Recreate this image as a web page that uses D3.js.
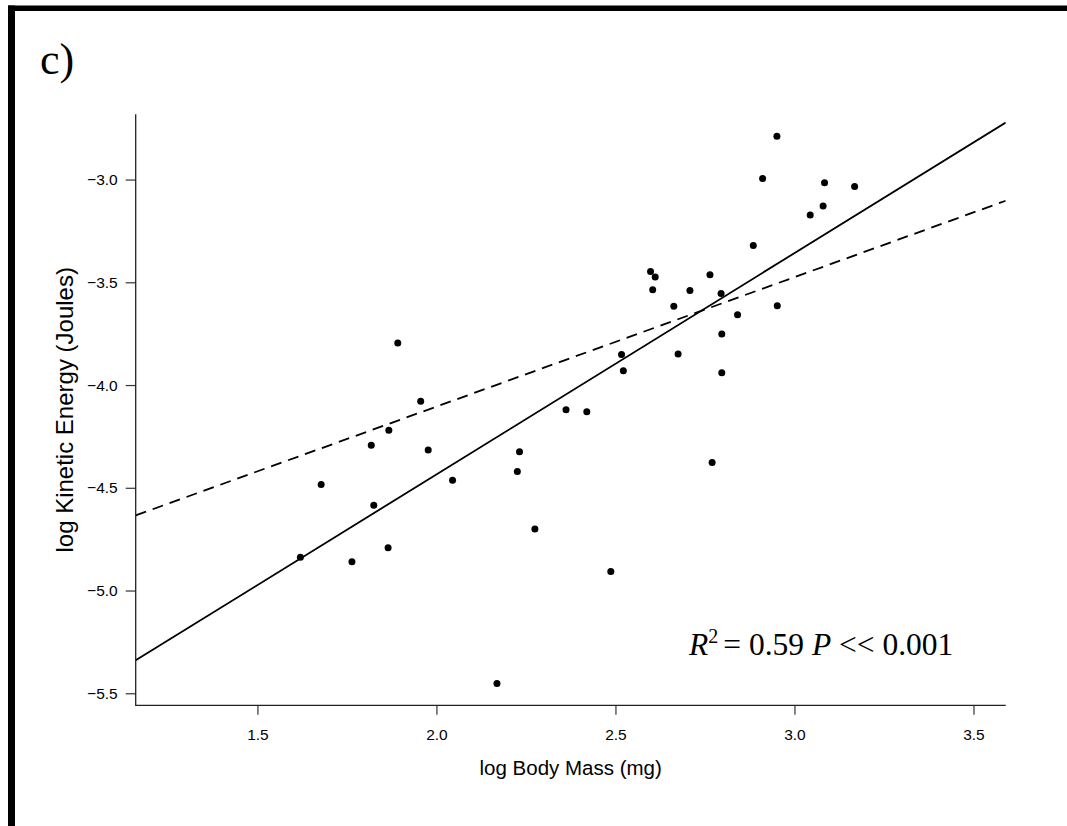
<!DOCTYPE html>
<html>
<head>
<meta charset="utf-8">
<script src="https://cdn.jsdelivr.net/npm/d3@7"></script>
<style>
  html, body { margin: 0; padding: 0; background: #fff; }
  svg { display: block; }
</style>
</head>
<body>
<svg id="chart" width="1067" height="826"></svg>
<script>
// ---- data ----
const bodyMass = [1.620, 1.678, 1.764, 1.818, 1.825, 1.865, 1.867, 1.892, 1.956, 1.977,
                  2.045, 2.226, 2.232, 2.275, 2.362, 2.420, 2.169, 2.487, 2.517, 2.522,
                  2.598, 2.611, 2.604, 2.663, 2.675, 2.708, 2.764, 2.770, 2.795, 2.797,
                  2.797, 2.841, 2.885, 2.911, 2.951, 2.952, 3.044, 3.080, 3.084, 3.168];
const kineticEnergy = [-4.838, -4.484, -4.860, -4.293, -4.585, -4.792, -4.220, -3.795, -4.079, -4.316,
                       -4.463, -4.421, -4.325, -4.700, -4.120, -4.130, -5.452, -4.907, -3.851, -3.930,
                       -3.447, -3.474, -3.536, -3.617, -3.849, -3.540, -3.463, -4.377, -3.554, -3.752,
                       -3.940, -3.658, -3.321, -2.995, -2.789, -3.614, -3.172, -3.129, -3.016, -3.034];
const lineNames = ["fit", "reference"];
const lineIntercepts = [-6.589, -5.365];
const lineSlopes = [1.077, 0.63];
const xTicks = [1.5, 2.0, 2.5, 3.0, 3.5];
const yTicks = [-3.0, -3.5, -4.0, -4.5, -5.0, -5.5];
const xLim = [1.25, 3.5];
const panelLabel = "c)";
const xTitle = "log Body Mass (mg)";
const yTitle = "log Kinetic Energy (Joules)";

// ---- layout ----
const svg = d3.select("#chart");
const plot = { left: 135.7, right: 1005.7, top: 114.3, bottom: 705.3 };

// R-style 4% axis extension
const xr = xLim[1] - xLim[0];
const xDom = [xLim[0] - 0.04 * xr, xLim[1] + 0.04 * xr];
const yExt = d3.extent(kineticEnergy);
const yr = yExt[1] - yExt[0];
const yDom = [yExt[0] - 0.04 * yr, yExt[1] + 0.04 * yr];

const x = d3.scaleLinear().domain(xDom).range([plot.left, plot.right]);
const y = d3.scaleLinear().domain(yDom).range([plot.bottom, plot.top]);

// frame (partial border of the cropped figure)
svg.append("rect").attr("x", 8).attr("y", 5.5).attr("width", 1059).attr("height", 5.5).attr("fill", "#000");
svg.append("rect").attr("x", 8).attr("y", 5.5).attr("width", 7).attr("height", 821).attr("fill", "#000");

// panel label
svg.append("text")
  .attr("x", 40).attr("y", 74)
  .attr("font-family", "'Liberation Serif', 'Times New Roman', serif")
  .attr("font-size", 44)
  .attr("fill", "#000")
  .text(panelLabel);

// axes
const fmt = d => d3.format(".1f")(d).replace("-", "\u2212");
const xAxis = d3.axisBottom(x).tickValues(xTicks).tickFormat(d3.format(".1f")).tickSize(9.5).tickPadding(14);
const yAxis = d3.axisLeft(y).tickValues(yTicks).tickFormat(fmt).tickSize(10).tickPadding(8);

const gx = svg.append("g").attr("transform", `translate(0,${plot.bottom})`).call(xAxis);
const gy = svg.append("g").attr("transform", `translate(${plot.left},0)`).call(yAxis);
[gx, gy].forEach(g => {
  g.select(".domain").remove();
  g.selectAll(".tick line").attr("stroke", "#333").attr("stroke-width", 1.2);
  g.selectAll(".tick text")
    .attr("font-family", "'Liberation Sans', Arial, Helvetica, sans-serif")
    .attr("font-size", 15.5)
    .attr("fill", "#000");
});

// L-shaped box
svg.append("path")
  .attr("d", `M${plot.left},${plot.top}V${plot.bottom}H${plot.right}`)
  .attr("fill", "none").attr("stroke", "#222").attr("stroke-width", 1.3);

// axis titles
svg.append("text")
  .attr("x", (plot.left + plot.right) / 2).attr("y", 775)
  .attr("text-anchor", "middle")
  .attr("font-family", "'Liberation Sans', Arial, Helvetica, sans-serif")
  .attr("font-size", 20.5).attr("fill", "#000")
  .text(xTitle);
svg.append("text")
  .attr("transform", `translate(73,${(plot.top + plot.bottom) / 2}) rotate(-90)`)
  .attr("text-anchor", "middle")
  .attr("font-family", "'Liberation Sans', Arial, Helvetica, sans-serif")
  .attr("font-size", 24).attr("fill", "#000")
  .text(yTitle);

// clip region
svg.append("clipPath").attr("id", "clip")
  .append("rect").attr("x", plot.left).attr("y", plot.top)
  .attr("width", plot.right - plot.left).attr("height", plot.bottom - plot.top);

// regression lines
const lineGen = d3.line().x(d => x(d[0])).y(d => y(d[1]));
const lg = svg.append("g").attr("clip-path", "url(#clip)");
lineNames.forEach((name, i) => {
  const pts = xDom.map(v => [v, lineIntercepts[i] + lineSlopes[i] * v]);
  lg.append("path")
    .attr("d", lineGen(pts))
    .attr("fill", "none")
    .attr("stroke", "#000")
    .attr("stroke-width", 1.8)
    .attr("stroke-dasharray", name === "reference" ? "11,7" : null);
});

// points
svg.append("g").selectAll("circle")
  .data(bodyMass.map((m, i) => [m, kineticEnergy[i]]))
  .join("circle")
  .attr("cx", d => x(d[0]))
  .attr("cy", d => y(d[1]))
  .attr("r", 3.5)
  .attr("fill", "#000");

// annotation
const ann = svg.append("text")
  .attr("x", 689).attr("y", 655)
  .attr("font-family", "'Liberation Serif', 'Times New Roman', serif")
  .attr("font-size", 31.5).attr("fill", "#000");
ann.append("tspan").attr("font-style", "italic").text("R");
ann.append("tspan").attr("font-size", 20).attr("dy", -12).text("2");
ann.append("tspan").attr("dy", 12).attr("dx", 5).text("= 0.59 ");
ann.append("tspan").attr("font-style", "italic").text("P");
ann.append("tspan").text(" << 0.001");
</script>
</body>
</html>
